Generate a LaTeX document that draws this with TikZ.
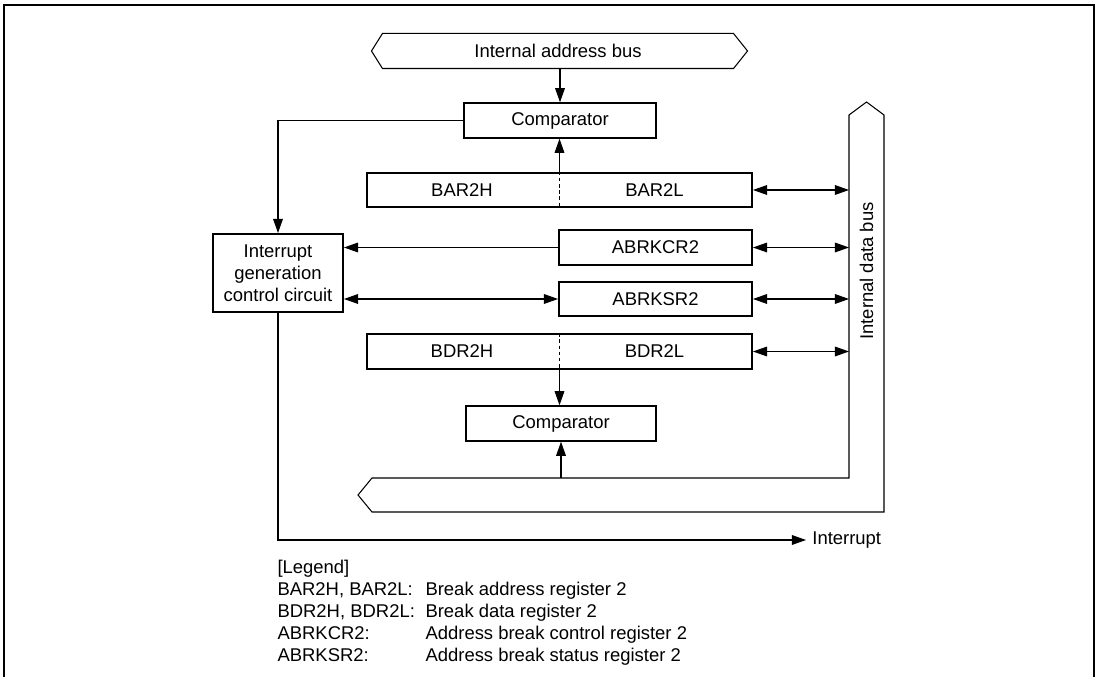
\documentclass[tikz,border=0pt]{standalone}
\usepackage{fontspec}
\setmainfont{Liberation Sans}
\usetikzlibrary{arrows.meta}

\begin{document}
\begin{tikzpicture}[x=1cm,y=1cm,font=\fontsize{10.5}{12.6}\selectfont,line width=0.6pt,
  regbox/.style={draw,line width=1.1pt,inner sep=0pt,minimum height=0.69cm},
  legtext/.style={anchor=base west,inner sep=0pt},
  >={Triangle[length=8pt,width=5.5pt]}]
\useasboundingbox (0,0) rectangle (21.98,13.54);
\draw[line width=1.2pt] (0.08,0) -- (0.08,13.44) -- (21.88,13.44) -- (21.88,0);
% buses
\node[minimum width=7cm,minimum height=0.68cm,inner sep=0pt] (abus) at (11.16,12.52) {Internal address bus};
\draw (abus.north west) -- ([xshift=-0.22cm]abus.west) -- (abus.south west) -- (abus.south east) -- ([xshift=0.28cm]abus.east) -- (abus.north east) -- cycle;
\coordinate (dbusL) at (16.98,3.98);
\draw (dbusL) -- (16.98,11.24) -- (17.33,11.5) -- (17.68,11.24) -- (17.68,3.30) -- (7.44,3.30) -- (7.16,3.64) -- (7.44,3.98) -- cycle;
\node[rotate=90] (dbus) at (17.33,8.12) {Internal data bus};
% registers and comparators
\node[regbox,minimum width=3.84cm] (cmpA) at (11.2,11.13) {Comparator};
\node[regbox,minimum width=7.7cm] (bar) at (11.19,9.74) {};
\node (barH) at (9.24,9.74) {BAR2H};
\node (barL) at (13.09,9.74) {BAR2L};
\node[regbox,minimum width=3.86cm] (abrkcr) at (13.11,8.59) {ABRKCR2};
\node[regbox,minimum width=3.86cm] (abrksr) at (13.11,7.56) {ABRKSR2};
\node[regbox,minimum width=7.7cm] (bdr) at (11.19,6.51) {};
\node (bdrH) at (9.24,6.51) {BDR2H};
\node (bdrL) at (13.09,6.51) {BDR2L};
\node[regbox,minimum width=3.8cm] (cmpB) at (11.22,5.07) {Comparator};
\node[regbox,minimum width=2.6cm,minimum height=1.56cm,align=center] (intr) at (5.56,8.08) {Interrupt\\generation\\control circuit};
\node[anchor=west] (intout) at (16.12,2.74) {Interrupt};
% connections
\draw[->] (abus.south -| cmpA.north) -- (cmpA.north);
\draw[dash pattern=on 2pt off 1.5pt] (bar.north) -- (bar.south);
\draw[->] (bar.north) -- (bar.north |- cmpA.south);
\draw[->] (cmpA.west) -| (intr.north);
\draw[->] (abrkcr.west) -- (abrkcr.west -| intr.east);
\draw[<->] (intr.east |- abrksr.west) -- (abrksr.west);
\draw[dash pattern=on 2pt off 1.5pt] (bdr.north) -- (bdr.south);
\draw[->] (bdr.south) -- (bdr.south |- cmpB.north);
\draw[->] (cmpB.south |- dbusL) -- (cmpB.south);
\draw[->] (intr.south) |- (intout.west);
\foreach \reg in {bar,abrkcr,abrksr,bdr}
  \draw[<->] (\reg.east) -- (\reg.east -| dbusL);
% legend
\node[legtext] (legend) at (5.54,2.07) {[Legend]};
\foreach \yy/\reg/\desc [count=\i] in {1.63/{BAR2H, BAR2L:}/Break address register 2,
  1.19/{BDR2H, BDR2L:}/Break data register 2,
  0.75/ABRKCR2:/Address break control register 2,
  0.31/ABRKSR2:/Address break status register 2}{
  \node[legtext] (key\i) at (5.54,\yy) {\reg};
  \node[legtext] (desc\i) at (8.5,\yy) {\desc};
}
\end{tikzpicture}
\end{document}
